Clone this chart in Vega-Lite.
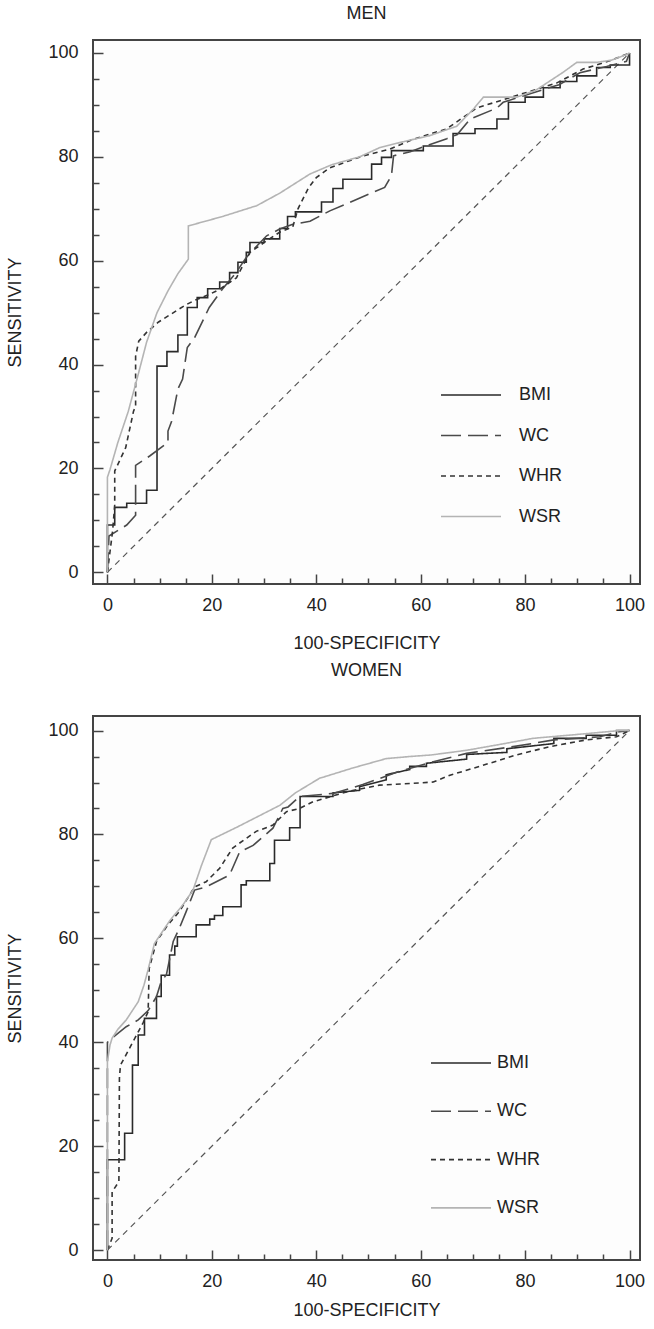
{
  "$schema": "https://vega.github.io/schema/vega-lite/v6.json",
  "background": "white",
  "padding": {"left": 5, "top": 4, "right": 5, "bottom": 5},
  "config": {
    "font": "Liberation Sans",
    "view": {"stroke": "#444", "strokeWidth": 2, "fill": "#fdfdfd"},
    "title": {"fontSize": 18, "fontWeight": "normal", "color": "#222", "anchor": "middle", "font": "Liberation Sans"},
    "axis": {"domain": false, "grid": false, "tickColor": "#444", "tickWidth": 1.5, "labelFontSize": 18, "labelColor": "#222", "labelFont": "Liberation Sans", "titleFont": "Liberation Sans", "titleFontSize": 18, "titleFontWeight": "normal", "titleColor": "#222", "labelFlush": false, "labelOverlap": false},
    "concat": {"spacing": 8}
  },
  "datasets": {
    "diag": [{"x": 0, "y": 0}, {"x": 100, "y": 100}],
    "roc": [
      {"p":"MEN","s":"BMI","o":1,"x":0,"y":0},{"p":"MEN","s":"BMI","o":2,"x":0,"y":9.1},{"p":"MEN","s":"BMI","o":3,"x":1.4,"y":9.1},{"p":"MEN","s":"BMI","o":4,"x":1.4,"y":12.5},{"p":"MEN","s":"BMI","o":5,"x":3.7,"y":12.5},{"p":"MEN","s":"BMI","o":6,"x":3.7,"y":13.3},{"p":"MEN","s":"BMI","o":7,"x":7.5,"y":13.3},{"p":"MEN","s":"BMI","o":8,"x":7.5,"y":15.8},{"p":"MEN","s":"BMI","o":9,"x":9.5,"y":15.8},{"p":"MEN","s":"BMI","o":10,"x":9.5,"y":39.7},{"p":"MEN","s":"BMI","o":11,"x":11.4,"y":39.7},{"p":"MEN","s":"BMI","o":12,"x":11.4,"y":42.5},{"p":"MEN","s":"BMI","o":13,"x":13.5,"y":42.5},{"p":"MEN","s":"BMI","o":14,"x":13.5,"y":45.7},{"p":"MEN","s":"BMI","o":15,"x":15.3,"y":45.7},{"p":"MEN","s":"BMI","o":16,"x":15.3,"y":51},{"p":"MEN","s":"BMI","o":17,"x":17.2,"y":51},{"p":"MEN","s":"BMI","o":18,"x":17.2,"y":52.9},{"p":"MEN","s":"BMI","o":19,"x":19.2,"y":52.9},{"p":"MEN","s":"BMI","o":20,"x":19.2,"y":54.6},{"p":"MEN","s":"BMI","o":21,"x":21.5,"y":54.6},{"p":"MEN","s":"BMI","o":22,"x":21.5,"y":55.9},{"p":"MEN","s":"BMI","o":23,"x":23.4,"y":55.9},{"p":"MEN","s":"BMI","o":24,"x":23.4,"y":57.7},{"p":"MEN","s":"BMI","o":25,"x":25,"y":57.7},{"p":"MEN","s":"BMI","o":26,"x":25,"y":59.7},{"p":"MEN","s":"BMI","o":27,"x":26.6,"y":59.7},{"p":"MEN","s":"BMI","o":28,"x":26.6,"y":61.6},{"p":"MEN","s":"BMI","o":29,"x":27.3,"y":61.6},{"p":"MEN","s":"BMI","o":30,"x":27.3,"y":63.5},{"p":"MEN","s":"BMI","o":31,"x":30,"y":63.5},{"p":"MEN","s":"BMI","o":32,"x":30,"y":64.2},{"p":"MEN","s":"BMI","o":33,"x":33,"y":64.2},{"p":"MEN","s":"BMI","o":34,"x":33,"y":66.2},{"p":"MEN","s":"BMI","o":35,"x":34.5,"y":66.2},{"p":"MEN","s":"BMI","o":36,"x":34.5,"y":68.5},{"p":"MEN","s":"BMI","o":37,"x":36,"y":68.5},{"p":"MEN","s":"BMI","o":38,"x":36,"y":69.4},{"p":"MEN","s":"BMI","o":39,"x":41,"y":69.4},{"p":"MEN","s":"BMI","o":40,"x":41,"y":71.3},{"p":"MEN","s":"BMI","o":41,"x":43.2,"y":71.3},{"p":"MEN","s":"BMI","o":42,"x":43.2,"y":73.9},{"p":"MEN","s":"BMI","o":43,"x":45.1,"y":73.9},{"p":"MEN","s":"BMI","o":44,"x":45.1,"y":75.7},{"p":"MEN","s":"BMI","o":45,"x":50.6,"y":75.7},{"p":"MEN","s":"BMI","o":46,"x":50.6,"y":78.6},{"p":"MEN","s":"BMI","o":47,"x":52.5,"y":78.6},{"p":"MEN","s":"BMI","o":48,"x":52.5,"y":79.9},{"p":"MEN","s":"BMI","o":49,"x":54.4,"y":79.9},{"p":"MEN","s":"BMI","o":50,"x":54.4,"y":81.2},{"p":"MEN","s":"BMI","o":51,"x":60.5,"y":81.2},{"p":"MEN","s":"BMI","o":52,"x":60.5,"y":82.1},{"p":"MEN","s":"BMI","o":53,"x":66.2,"y":82.1},{"p":"MEN","s":"BMI","o":54,"x":66.2,"y":84.5},{"p":"MEN","s":"BMI","o":55,"x":70.4,"y":84.5},{"p":"MEN","s":"BMI","o":56,"x":70.4,"y":85.4},{"p":"MEN","s":"BMI","o":57,"x":74.6,"y":85.4},{"p":"MEN","s":"BMI","o":58,"x":74.6,"y":87.3},{"p":"MEN","s":"BMI","o":59,"x":76.8,"y":87.3},{"p":"MEN","s":"BMI","o":60,"x":76.8,"y":90.5},{"p":"MEN","s":"BMI","o":61,"x":80,"y":90.5},{"p":"MEN","s":"BMI","o":62,"x":80,"y":91.5},{"p":"MEN","s":"BMI","o":63,"x":83.5,"y":91.5},{"p":"MEN","s":"BMI","o":64,"x":83.5,"y":93.3},{"p":"MEN","s":"BMI","o":65,"x":86.7,"y":93.3},{"p":"MEN","s":"BMI","o":66,"x":86.7,"y":94.5},{"p":"MEN","s":"BMI","o":67,"x":89.9,"y":94.5},{"p":"MEN","s":"BMI","o":68,"x":89.9,"y":95.6},{"p":"MEN","s":"BMI","o":69,"x":93.7,"y":95.6},{"p":"MEN","s":"BMI","o":70,"x":93.7,"y":97.2},{"p":"MEN","s":"BMI","o":71,"x":96.3,"y":97.2},{"p":"MEN","s":"BMI","o":72,"x":96.3,"y":97.7},{"p":"MEN","s":"BMI","o":73,"x":100,"y":97.7},{"p":"MEN","s":"BMI","o":74,"x":100,"y":100},

      {"p":"MEN","s":"WC","o":1,"x":0,"y":0},{"p":"MEN","s":"WC","o":2,"x":0.3,"y":7},{"p":"MEN","s":"WC","o":3,"x":3.7,"y":9.1},{"p":"MEN","s":"WC","o":4,"x":5.4,"y":11},{"p":"MEN","s":"WC","o":5,"x":5.4,"y":20.6},{"p":"MEN","s":"WC","o":6,"x":8.1,"y":22.4},{"p":"MEN","s":"WC","o":7,"x":11.6,"y":25},{"p":"MEN","s":"WC","o":8,"x":11.6,"y":27.2},{"p":"MEN","s":"WC","o":9,"x":12.3,"y":29.1},{"p":"MEN","s":"WC","o":10,"x":13.5,"y":35.3},{"p":"MEN","s":"WC","o":11,"x":14.4,"y":37.2},{"p":"MEN","s":"WC","o":12,"x":15.3,"y":43.3},{"p":"MEN","s":"WC","o":13,"x":16.7,"y":45.2},{"p":"MEN","s":"WC","o":14,"x":19.5,"y":51},{"p":"MEN","s":"WC","o":15,"x":22,"y":54.5},{"p":"MEN","s":"WC","o":16,"x":24.5,"y":57.5},{"p":"MEN","s":"WC","o":17,"x":26.5,"y":60.5},{"p":"MEN","s":"WC","o":18,"x":28,"y":62.2},{"p":"MEN","s":"WC","o":19,"x":30.5,"y":64.8},{"p":"MEN","s":"WC","o":20,"x":33,"y":66.1},{"p":"MEN","s":"WC","o":21,"x":35.5,"y":67},{"p":"MEN","s":"WC","o":22,"x":38.8,"y":67.6},{"p":"MEN","s":"WC","o":23,"x":42.6,"y":69.6},{"p":"MEN","s":"WC","o":24,"x":46.4,"y":71.2},{"p":"MEN","s":"WC","o":25,"x":50,"y":72.8},{"p":"MEN","s":"WC","o":26,"x":53.1,"y":74.1},{"p":"MEN","s":"WC","o":27,"x":54.4,"y":76.4},{"p":"MEN","s":"WC","o":28,"x":54.8,"y":80.2},{"p":"MEN","s":"WC","o":29,"x":58,"y":81},{"p":"MEN","s":"WC","o":30,"x":61.8,"y":82.4},{"p":"MEN","s":"WC","o":31,"x":65,"y":83.5},{"p":"MEN","s":"WC","o":32,"x":67,"y":84.3},{"p":"MEN","s":"WC","o":33,"x":69.5,"y":87.3},{"p":"MEN","s":"WC","o":34,"x":74.6,"y":89.4},{"p":"MEN","s":"WC","o":35,"x":75.8,"y":90.5},{"p":"MEN","s":"WC","o":36,"x":81.4,"y":92.3},{"p":"MEN","s":"WC","o":37,"x":86.5,"y":93.9},{"p":"MEN","s":"WC","o":38,"x":90.5,"y":96.2},{"p":"MEN","s":"WC","o":39,"x":95.6,"y":97.4},{"p":"MEN","s":"WC","o":40,"x":99.4,"y":98.4},{"p":"MEN","s":"WC","o":41,"x":100,"y":100},

      {"p":"MEN","s":"WHR","o":1,"x":0,"y":0},{"p":"MEN","s":"WHR","o":2,"x":1,"y":8},{"p":"MEN","s":"WHR","o":3,"x":1.4,"y":13},{"p":"MEN","s":"WHR","o":4,"x":1.4,"y":19.5},{"p":"MEN","s":"WHR","o":5,"x":3.5,"y":24},{"p":"MEN","s":"WHR","o":6,"x":5,"y":31},{"p":"MEN","s":"WHR","o":7,"x":5.4,"y":32},{"p":"MEN","s":"WHR","o":8,"x":5.4,"y":41.6},{"p":"MEN","s":"WHR","o":9,"x":6,"y":44.5},{"p":"MEN","s":"WHR","o":10,"x":7.5,"y":46.2},{"p":"MEN","s":"WHR","o":11,"x":9.8,"y":48.2},{"p":"MEN","s":"WHR","o":12,"x":15,"y":51.5},{"p":"MEN","s":"WHR","o":13,"x":17,"y":52.5},{"p":"MEN","s":"WHR","o":14,"x":19.5,"y":53.5},{"p":"MEN","s":"WHR","o":15,"x":21.5,"y":54.5},{"p":"MEN","s":"WHR","o":16,"x":24.7,"y":56.7},{"p":"MEN","s":"WHR","o":17,"x":27.3,"y":61.6},{"p":"MEN","s":"WHR","o":18,"x":30,"y":63.5},{"p":"MEN","s":"WHR","o":19,"x":33,"y":65.5},{"p":"MEN","s":"WHR","o":20,"x":35.5,"y":66.5},{"p":"MEN","s":"WHR","o":21,"x":36.5,"y":70},{"p":"MEN","s":"WHR","o":22,"x":38.5,"y":74},{"p":"MEN","s":"WHR","o":23,"x":40,"y":76},{"p":"MEN","s":"WHR","o":24,"x":42.6,"y":77.9},{"p":"MEN","s":"WHR","o":25,"x":49,"y":80.2},{"p":"MEN","s":"WHR","o":26,"x":54.1,"y":81.5},{"p":"MEN","s":"WHR","o":27,"x":58.6,"y":83.4},{"p":"MEN","s":"WHR","o":28,"x":65,"y":85.4},{"p":"MEN","s":"WHR","o":29,"x":70.7,"y":89.4},{"p":"MEN","s":"WHR","o":30,"x":75.8,"y":91},{"p":"MEN","s":"WHR","o":31,"x":80.9,"y":92.6},{"p":"MEN","s":"WHR","o":32,"x":86,"y":94.2},{"p":"MEN","s":"WHR","o":33,"x":91.1,"y":96.9},{"p":"MEN","s":"WHR","o":34,"x":96.2,"y":98.5},{"p":"MEN","s":"WHR","o":35,"x":100,"y":100},

      {"p":"MEN","s":"WSR","o":1,"x":0,"y":0},{"p":"MEN","s":"WSR","o":2,"x":0,"y":18.3},{"p":"MEN","s":"WSR","o":3,"x":0.5,"y":19.8},{"p":"MEN","s":"WSR","o":4,"x":2,"y":25},{"p":"MEN","s":"WSR","o":5,"x":4,"y":31},{"p":"MEN","s":"WSR","o":6,"x":6,"y":38.5},{"p":"MEN","s":"WSR","o":7,"x":7.5,"y":44.3},{"p":"MEN","s":"WSR","o":8,"x":9.5,"y":50},{"p":"MEN","s":"WSR","o":9,"x":11.6,"y":54.2},{"p":"MEN","s":"WSR","o":10,"x":13.5,"y":57.5},{"p":"MEN","s":"WSR","o":11,"x":15.5,"y":60.3},{"p":"MEN","s":"WSR","o":12,"x":15.5,"y":66.7},{"p":"MEN","s":"WSR","o":13,"x":22,"y":68.5},{"p":"MEN","s":"WSR","o":14,"x":28.6,"y":70.6},{"p":"MEN","s":"WSR","o":15,"x":33,"y":73},{"p":"MEN","s":"WSR","o":16,"x":38.8,"y":76.7},{"p":"MEN","s":"WSR","o":17,"x":43,"y":78.5},{"p":"MEN","s":"WSR","o":18,"x":48.3,"y":80},{"p":"MEN","s":"WSR","o":19,"x":52.2,"y":81.8},{"p":"MEN","s":"WSR","o":20,"x":57,"y":83},{"p":"MEN","s":"WSR","o":21,"x":61.8,"y":84.1},{"p":"MEN","s":"WSR","o":22,"x":66.9,"y":85.9},{"p":"MEN","s":"WSR","o":23,"x":70.1,"y":89.2},{"p":"MEN","s":"WSR","o":24,"x":72,"y":91.5},{"p":"MEN","s":"WSR","o":25,"x":78.4,"y":91.5},{"p":"MEN","s":"WSR","o":26,"x":82,"y":92.8},{"p":"MEN","s":"WSR","o":27,"x":87.3,"y":96.3},{"p":"MEN","s":"WSR","o":28,"x":89.9,"y":98.2},{"p":"MEN","s":"WSR","o":29,"x":93.7,"y":98.2},{"p":"MEN","s":"WSR","o":30,"x":96.5,"y":98.6},{"p":"MEN","s":"WSR","o":31,"x":99.4,"y":99.7},{"p":"MEN","s":"WSR","o":32,"x":100,"y":100},

      {"p":"WOMEN","s":"BMI","o":1,"x":0,"y":0},{"p":"WOMEN","s":"BMI","o":2,"x":0,"y":17.4},{"p":"WOMEN","s":"BMI","o":3,"x":3.3,"y":17.4},{"p":"WOMEN","s":"BMI","o":4,"x":3.3,"y":22.5},{"p":"WOMEN","s":"BMI","o":5,"x":4.8,"y":22.5},{"p":"WOMEN","s":"BMI","o":6,"x":4.8,"y":35.6},{"p":"WOMEN","s":"BMI","o":7,"x":5.9,"y":35.6},{"p":"WOMEN","s":"BMI","o":8,"x":5.9,"y":41.4},{"p":"WOMEN","s":"BMI","o":9,"x":7.1,"y":41.4},{"p":"WOMEN","s":"BMI","o":10,"x":7.1,"y":44.6},{"p":"WOMEN","s":"BMI","o":11,"x":9.4,"y":44.6},{"p":"WOMEN","s":"BMI","o":12,"x":9.4,"y":48.8},{"p":"WOMEN","s":"BMI","o":13,"x":10.3,"y":48.8},{"p":"WOMEN","s":"BMI","o":14,"x":10.3,"y":52.9},{"p":"WOMEN","s":"BMI","o":15,"x":11.9,"y":52.9},{"p":"WOMEN","s":"BMI","o":16,"x":11.9,"y":56.8},{"p":"WOMEN","s":"BMI","o":17,"x":12.9,"y":56.8},{"p":"WOMEN","s":"BMI","o":18,"x":12.9,"y":58.5},{"p":"WOMEN","s":"BMI","o":19,"x":13.4,"y":58.5},{"p":"WOMEN","s":"BMI","o":20,"x":13.4,"y":60.3},{"p":"WOMEN","s":"BMI","o":21,"x":17,"y":60.3},{"p":"WOMEN","s":"BMI","o":22,"x":17,"y":62.6},{"p":"WOMEN","s":"BMI","o":23,"x":19.6,"y":62.6},{"p":"WOMEN","s":"BMI","o":24,"x":19.6,"y":63.7},{"p":"WOMEN","s":"BMI","o":25,"x":20.5,"y":63.7},{"p":"WOMEN","s":"BMI","o":26,"x":20.5,"y":64.4},{"p":"WOMEN","s":"BMI","o":27,"x":22.1,"y":64.4},{"p":"WOMEN","s":"BMI","o":28,"x":22.1,"y":66.1},{"p":"WOMEN","s":"BMI","o":29,"x":25.6,"y":66.1},{"p":"WOMEN","s":"BMI","o":30,"x":25.6,"y":70.3},{"p":"WOMEN","s":"BMI","o":31,"x":26.6,"y":70.3},{"p":"WOMEN","s":"BMI","o":32,"x":26.6,"y":71.1},{"p":"WOMEN","s":"BMI","o":33,"x":31.1,"y":71.1},{"p":"WOMEN","s":"BMI","o":34,"x":31.1,"y":74.4},{"p":"WOMEN","s":"BMI","o":35,"x":32,"y":74.4},{"p":"WOMEN","s":"BMI","o":36,"x":32,"y":78.9},{"p":"WOMEN","s":"BMI","o":37,"x":34.9,"y":78.9},{"p":"WOMEN","s":"BMI","o":38,"x":34.9,"y":81.3},{"p":"WOMEN","s":"BMI","o":39,"x":36.9,"y":81.3},{"p":"WOMEN","s":"BMI","o":40,"x":36.9,"y":87.3},{"p":"WOMEN","s":"BMI","o":41,"x":43.2,"y":87.3},{"p":"WOMEN","s":"BMI","o":42,"x":43.2,"y":88},{"p":"WOMEN","s":"BMI","o":43,"x":48.3,"y":88.5},{"p":"WOMEN","s":"BMI","o":44,"x":48.3,"y":89.2},{"p":"WOMEN","s":"BMI","o":45,"x":53.4,"y":90.5},{"p":"WOMEN","s":"BMI","o":46,"x":53.4,"y":91.5},{"p":"WOMEN","s":"BMI","o":47,"x":57.9,"y":92.5},{"p":"WOMEN","s":"BMI","o":48,"x":57.9,"y":93.1},{"p":"WOMEN","s":"BMI","o":49,"x":61.1,"y":93.1},{"p":"WOMEN","s":"BMI","o":50,"x":61.1,"y":93.7},{"p":"WOMEN","s":"BMI","o":51,"x":68.8,"y":94.5},{"p":"WOMEN","s":"BMI","o":52,"x":68.8,"y":95.4},{"p":"WOMEN","s":"BMI","o":53,"x":76.5,"y":95.8},{"p":"WOMEN","s":"BMI","o":54,"x":76.5,"y":96.5},{"p":"WOMEN","s":"BMI","o":55,"x":85.5,"y":97.5},{"p":"WOMEN","s":"BMI","o":56,"x":85.5,"y":98.5},{"p":"WOMEN","s":"BMI","o":57,"x":91.7,"y":98.5},{"p":"WOMEN","s":"BMI","o":58,"x":91.7,"y":99.1},{"p":"WOMEN","s":"BMI","o":59,"x":97.5,"y":99.1},{"p":"WOMEN","s":"BMI","o":60,"x":97.5,"y":100},{"p":"WOMEN","s":"BMI","o":61,"x":100,"y":100},

      {"p":"WOMEN","s":"WC","o":1,"x":0,"y":0},{"p":"WOMEN","s":"WC","o":2,"x":0,"y":40},{"p":"WOMEN","s":"WC","o":3,"x":0.9,"y":40.8},{"p":"WOMEN","s":"WC","o":4,"x":3.6,"y":43},{"p":"WOMEN","s":"WC","o":5,"x":5.9,"y":44.3},{"p":"WOMEN","s":"WC","o":6,"x":7.8,"y":46.1},{"p":"WOMEN","s":"WC","o":7,"x":9.4,"y":48.8},{"p":"WOMEN","s":"WC","o":8,"x":10.3,"y":51.7},{"p":"WOMEN","s":"WC","o":9,"x":11.3,"y":53},{"p":"WOMEN","s":"WC","o":10,"x":12.6,"y":59.4},{"p":"WOMEN","s":"WC","o":11,"x":13.8,"y":62},{"p":"WOMEN","s":"WC","o":12,"x":15.1,"y":65.2},{"p":"WOMEN","s":"WC","o":13,"x":16.7,"y":69.3},{"p":"WOMEN","s":"WC","o":14,"x":18.9,"y":69.9},{"p":"WOMEN","s":"WC","o":15,"x":23.4,"y":72.2},{"p":"WOMEN","s":"WC","o":16,"x":25.3,"y":76.6},{"p":"WOMEN","s":"WC","o":17,"x":27.9,"y":77.9},{"p":"WOMEN","s":"WC","o":18,"x":31.7,"y":81.2},{"p":"WOMEN","s":"WC","o":19,"x":33.6,"y":85},{"p":"WOMEN","s":"WC","o":20,"x":34.6,"y":85.3},{"p":"WOMEN","s":"WC","o":21,"x":36.8,"y":87.3},{"p":"WOMEN","s":"WC","o":22,"x":43.2,"y":87.9},{"p":"WOMEN","s":"WC","o":23,"x":48.9,"y":89.6},{"p":"WOMEN","s":"WC","o":24,"x":55.5,"y":92},{"p":"WOMEN","s":"WC","o":25,"x":62.4,"y":94},{"p":"WOMEN","s":"WC","o":26,"x":68.8,"y":95.6},{"p":"WOMEN","s":"WC","o":27,"x":77.7,"y":96.9},{"p":"WOMEN","s":"WC","o":28,"x":85.5,"y":98.2},{"p":"WOMEN","s":"WC","o":29,"x":94.3,"y":98.8},{"p":"WOMEN","s":"WC","o":30,"x":98.1,"y":99.8},{"p":"WOMEN","s":"WC","o":31,"x":100,"y":100},

      {"p":"WOMEN","s":"WHR","o":1,"x":0,"y":0},{"p":"WOMEN","s":"WHR","o":2,"x":0.9,"y":2.3},{"p":"WOMEN","s":"WHR","o":3,"x":0.9,"y":11.2},{"p":"WOMEN","s":"WHR","o":4,"x":2.2,"y":13.2},{"p":"WOMEN","s":"WHR","o":5,"x":2.3,"y":33.1},{"p":"WOMEN","s":"WHR","o":6,"x":2.5,"y":35.6},{"p":"WOMEN","s":"WHR","o":7,"x":4.9,"y":40.1},{"p":"WOMEN","s":"WHR","o":8,"x":6.8,"y":43.7},{"p":"WOMEN","s":"WHR","o":9,"x":7.8,"y":45.9},{"p":"WOMEN","s":"WHR","o":10,"x":8,"y":54.2},{"p":"WOMEN","s":"WHR","o":11,"x":9.4,"y":59.4},{"p":"WOMEN","s":"WHR","o":12,"x":11.5,"y":62.5},{"p":"WOMEN","s":"WHR","o":13,"x":13.8,"y":65.2},{"p":"WOMEN","s":"WHR","o":14,"x":16.7,"y":69.9},{"p":"WOMEN","s":"WHR","o":15,"x":18.9,"y":70.9},{"p":"WOMEN","s":"WHR","o":16,"x":21.5,"y":73.5},{"p":"WOMEN","s":"WHR","o":17,"x":24,"y":77.4},{"p":"WOMEN","s":"WHR","o":18,"x":28.5,"y":80.6},{"p":"WOMEN","s":"WHR","o":19,"x":31.7,"y":81.8},{"p":"WOMEN","s":"WHR","o":20,"x":34.3,"y":84.4},{"p":"WOMEN","s":"WHR","o":21,"x":36.8,"y":85},{"p":"WOMEN","s":"WHR","o":22,"x":39.4,"y":86.3},{"p":"WOMEN","s":"WHR","o":23,"x":45.8,"y":88.2},{"p":"WOMEN","s":"WHR","o":24,"x":52.1,"y":89.5},{"p":"WOMEN","s":"WHR","o":25,"x":57.9,"y":89.8},{"p":"WOMEN","s":"WHR","o":26,"x":62.4,"y":90.1},{"p":"WOMEN","s":"WHR","o":27,"x":65.6,"y":91.4},{"p":"WOMEN","s":"WHR","o":28,"x":71.9,"y":93.3},{"p":"WOMEN","s":"WHR","o":29,"x":78.3,"y":95.3},{"p":"WOMEN","s":"WHR","o":30,"x":84.7,"y":96.9},{"p":"WOMEN","s":"WHR","o":31,"x":91.7,"y":98.2},{"p":"WOMEN","s":"WHR","o":32,"x":97.5,"y":98.8},{"p":"WOMEN","s":"WHR","o":33,"x":100,"y":100},

      {"p":"WOMEN","s":"WSR","o":1,"x":0,"y":0},{"p":"WOMEN","s":"WSR","o":2,"x":0,"y":36.3},{"p":"WOMEN","s":"WSR","o":3,"x":0.5,"y":39.5},{"p":"WOMEN","s":"WSR","o":4,"x":0.9,"y":40.8},{"p":"WOMEN","s":"WSR","o":5,"x":2,"y":42.5},{"p":"WOMEN","s":"WSR","o":6,"x":3.6,"y":44.3},{"p":"WOMEN","s":"WSR","o":7,"x":5.9,"y":47.8},{"p":"WOMEN","s":"WSR","o":8,"x":7,"y":51},{"p":"WOMEN","s":"WSR","o":9,"x":7.8,"y":54},{"p":"WOMEN","s":"WSR","o":10,"x":9,"y":59},{"p":"WOMEN","s":"WSR","o":11,"x":12,"y":63.5},{"p":"WOMEN","s":"WSR","o":12,"x":14.5,"y":66.5},{"p":"WOMEN","s":"WSR","o":13,"x":16.4,"y":69.3},{"p":"WOMEN","s":"WSR","o":14,"x":18,"y":74},{"p":"WOMEN","s":"WSR","o":15,"x":19.9,"y":79},{"p":"WOMEN","s":"WSR","o":16,"x":25,"y":81.5},{"p":"WOMEN","s":"WSR","o":17,"x":33,"y":85.6},{"p":"WOMEN","s":"WSR","o":18,"x":36,"y":88},{"p":"WOMEN","s":"WSR","o":19,"x":40.6,"y":90.8},{"p":"WOMEN","s":"WSR","o":20,"x":47,"y":92.8},{"p":"WOMEN","s":"WSR","o":21,"x":53.4,"y":94.6},{"p":"WOMEN","s":"WSR","o":22,"x":57.9,"y":95},{"p":"WOMEN","s":"WSR","o":23,"x":62,"y":95.3},{"p":"WOMEN","s":"WSR","o":24,"x":68.8,"y":96.2},{"p":"WOMEN","s":"WSR","o":25,"x":75,"y":97.3},{"p":"WOMEN","s":"WSR","o":26,"x":81.5,"y":98.5},{"p":"WOMEN","s":"WSR","o":27,"x":91.7,"y":99.4},{"p":"WOMEN","s":"WSR","o":28,"x":98.1,"y":100},{"p":"WOMEN","s":"WSR","o":29,"x":100,"y":100}
    ]
  },
  "resolve": {"scale": {"color": "independent", "strokeDash": "independent"}, "legend": {"color": "independent", "strokeDash": "independent"}},
  "vconcat": [
    {
      "title": {"text": "MEN", "offset": 17},
      "width": 547,
      "height": 544,
      "layer": [
        {
          "data": {"name": "diag"},
          "mark": {"type": "line", "color": "#555", "strokeDash": [6, 5], "strokeWidth": 1.2},
          "encoding": {
            "x": {"field": "x", "type": "quantitative", "scale": {"domain": [-2.76, 102], "nice": false, "zero": false}, "axis": {"orient": "bottom", "values": [5,10,15,25,30,35,45,50,55,65,70,75,85,90,95], "tickSize": -6, "labels": false, "title": null}},
            "y": {"field": "y", "type": "quantitative", "scale": {"domain": [-2.25, 102.5], "nice": false, "zero": false}, "axis": {"orient": "left", "values": [5,10,15,25,30,35,45,50,55,65,70,75,85,90,95], "tickSize": -6, "labels": false, "title": null}}
          }
        },
        {
          "data": {"name": "roc"},
          "transform": [{"filter": "datum.p === 'MEN'"}],
          "mark": {"type": "line", "strokeWidth": 1.6},
          "encoding": {
            "x": {"field": "x", "type": "quantitative", "scale": {"domain": [-2.76, 102], "nice": false, "zero": false}, "axis": {"orient": "bottom", "values": [0,20,40,60,80,100], "tickSize": -10, "labelPadding": 22, "title": "100-SPECIFICITY", "titlePadding": 20}},
            "y": {"field": "y", "type": "quantitative", "scale": {"domain": [-2.25, 102.5], "nice": false, "zero": false}, "axis": {"orient": "left", "values": [0,20,40,60,80,100], "tickSize": -10, "labelPadding": 25, "title": "SENSITIVITY", "titlePadding": 23}},
            "order": {"field": "o", "type": "quantitative"},
            "color": {"field": "s", "type": "nominal", "scale": {"domain": ["BMI","WC","WHR","WSR"], "range": ["#2a2a2a","#4a4a4a","#333333","#b4b4b4"]}, "legend": {"orient": "none", "legendX": 367, "legendY": 344, "title": null, "symbolType": "M-3,0L3,0", "symbolSize": 400, "symbolStrokeWidth": 1.6, "labelFontSize": 18, "labelColor": "#222", "labelOffset": 37, "rowPadding": 20.5, "padding": 0}},
            "strokeDash": {"field": "s", "type": "nominal", "scale": {"domain": ["BMI","WC","WHR","WSR"], "range": [[1,0],[20,7],[5,4],[1,0]]}, "legend": {"orient": "none", "legendX": 367, "legendY": 344, "title": null, "symbolType": "M-3,0L3,0", "symbolSize": 400, "symbolStrokeWidth": 1.6, "labelFontSize": 18, "labelColor": "#222", "labelOffset": 37, "rowPadding": 20.5, "padding": 0}}
          }
        }
      ],
      "resolve": {"axis": {"x": "independent", "y": "independent"}}
    },
    {
      "title": {"text": "WOMEN", "offset": 36},
      "width": 547,
      "height": 544,
      "layer": [
        {
          "data": {"name": "diag"},
          "mark": {"type": "line", "color": "#555", "strokeDash": [6, 5], "strokeWidth": 1.2},
          "encoding": {
            "x": {"field": "x", "type": "quantitative", "scale": {"domain": [-2.76, 102], "nice": false, "zero": false}, "axis": {"orient": "bottom", "values": [5,10,15,25,30,35,45,50,55,65,70,75,85,90,95], "tickSize": -6, "labels": false, "title": null}},
            "y": {"field": "y", "type": "quantitative", "scale": {"domain": [-1.9, 102.8], "nice": false, "zero": false}, "axis": {"orient": "left", "values": [5,10,15,25,30,35,45,50,55,65,70,75,85,90,95], "tickSize": -6, "labels": false, "title": null}}
          }
        },
        {
          "data": {"name": "roc"},
          "transform": [{"filter": "datum.p === 'WOMEN'"}],
          "mark": {"type": "line", "strokeWidth": 1.6},
          "encoding": {
            "x": {"field": "x", "type": "quantitative", "scale": {"domain": [-2.76, 102], "nice": false, "zero": false}, "axis": {"orient": "bottom", "values": [0,20,40,60,80,100], "tickSize": -10, "labelPadding": 22, "title": "100-SPECIFICITY", "titlePadding": 11}},
            "y": {"field": "y", "type": "quantitative", "scale": {"domain": [-1.9, 102.8], "nice": false, "zero": false}, "axis": {"orient": "left", "values": [0,20,40,60,80,100], "tickSize": -10, "labelPadding": 25, "title": "SENSITIVITY", "titlePadding": 23}},
            "order": {"field": "o", "type": "quantitative"},
            "color": {"field": "s", "type": "nominal", "scale": {"domain": ["BMI","WC","WHR","WSR"], "range": ["#2a2a2a","#4a4a4a","#333333","#b4b4b4"]}, "legend": {"orient": "none", "legendX": 357, "legendY": 336, "title": null, "symbolType": "M-3,0L3,0", "symbolSize": 400, "symbolStrokeWidth": 1.6, "labelFontSize": 18, "labelColor": "#222", "labelOffset": 25, "rowPadding": 28.3, "padding": 0}},
            "strokeDash": {"field": "s", "type": "nominal", "scale": {"domain": ["BMI","WC","WHR","WSR"], "range": [[1,0],[20,7],[5,4],[1,0]]}, "legend": {"orient": "none", "legendX": 357, "legendY": 336, "title": null, "symbolType": "M-3,0L3,0", "symbolSize": 400, "symbolStrokeWidth": 1.6, "labelFontSize": 18, "labelColor": "#222", "labelOffset": 25, "rowPadding": 28.3, "padding": 0}}
          }
        }
      ],
      "resolve": {"axis": {"x": "independent", "y": "independent"}}
    }
  ]
}
